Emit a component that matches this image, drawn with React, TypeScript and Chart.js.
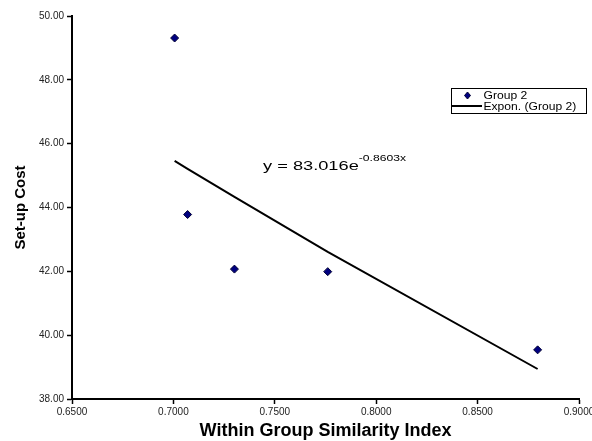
import React, { useEffect, useRef } from "react";
import { Chart, registerables } from "chart.js";

Chart.register(...registerables);

// Data
const similarityIndex = [0.7006, 0.707, 0.7301, 0.7761, 0.8796];
const setupCost = [49.31, 43.78, 42.07, 41.99, 39.54];
// Exponential trend line values read at the same x positions
const trendCost = [45.46, 45.21, 44.33, 42.61, 38.94];

const seriesLabel = "Group 2";
const trendLabel = "Expon. (Group 2)";
const equationMain = "y = 83.016e";
const equationExp = "-0.8603x";
const xTitle = "Within Group Similarity Index";
const yTitle = "Set-up Cost";

const FONT = "'Liberation Sans', Arial, Helvetica, sans-serif";
const SX = 1.35;

const overlayPlugin = {
  id: "overlay",
  afterDraw(chart: any) {
    const ctx = chart.ctx as CanvasRenderingContext2D;
    const area = chart.chartArea;
    ctx.save();
    ctx.fillStyle = "#000";
    // Axis titles
    ctx.font = `bold 18px ${FONT}`;
    ctx.textAlign = "center";
    ctx.textBaseline = "alphabetic";
    ctx.fillText(xTitle, (area.left + area.right) / 2, 436);
    ctx.save();
    ctx.translate(25, (area.top + area.bottom) / 2);
    ctx.rotate(-Math.PI / 2);
    ctx.font = `bold 15px ${FONT}`;
    ctx.textAlign = "center";
    ctx.textBaseline = "alphabetic";
    ctx.fillText(yTitle, 0, 0);
    ctx.restore();

    // Trend equation (horizontally stretched like the original)
    ctx.save();
    ctx.translate(263, 170);
    ctx.scale(SX, 1);
    ctx.textAlign = "left";
    ctx.font = `13.5px ${FONT}`;
    ctx.fillText(equationMain, 0, 0);
    const w = ctx.measureText(equationMain).width;
    ctx.font = `9px ${FONT}`;
    ctx.fillText(equationExp, w, -9);
    ctx.restore();

    // Legend box
    const bx = 451, by = 88, bw = 135, bh = 25;
    ctx.fillStyle = "#fff";
    ctx.fillRect(bx, by, bw, bh);
    ctx.strokeStyle = "#000";
    ctx.lineWidth = 1;
    ctx.strokeRect(bx + 0.5, by + 0.5, bw, bh);
    // marker
    const mx = 467.5, my1 = 95.5, my2 = 106;
    ctx.beginPath();
    ctx.moveTo(mx, my1 - 3.5);
    ctx.lineTo(mx + 3, my1);
    ctx.lineTo(mx, my1 + 3.5);
    ctx.lineTo(mx - 3, my1);
    ctx.closePath();
    ctx.fillStyle = "#000080";
    ctx.fill();
    ctx.strokeStyle = "#000033";
    ctx.stroke();
    // line
    ctx.beginPath();
    ctx.moveTo(452, my2);
    ctx.lineTo(482, my2);
    ctx.strokeStyle = "#000";
    ctx.lineWidth = 2;
    ctx.stroke();
    ctx.fillStyle = "#000";
    ctx.save();
    ctx.translate(483.5, 0);
    ctx.scale(1.1, 1);
    ctx.font = `11px ${FONT}`;
    ctx.textBaseline = "middle";
    ctx.textAlign = "left";
    ctx.fillText(chart.data.datasets[0].label, 0, my1 + 0.5);
    ctx.fillText(chart.data.datasets[1].label, 0, my2 + 0.5);
    ctx.restore();
    ctx.restore();
  },
};

export default function App() {
  const canvasRef = useRef<HTMLCanvasElement | null>(null);

  useEffect(() => {
    document.body.style.margin = "0";
    const canvas = canvasRef.current!;
    const chart = new Chart(canvas, {
      type: "scatter",
      data: {
        datasets: [
          {
            label: seriesLabel,
            data: similarityIndex.map((x, i) => ({ x, y: setupCost[i] })),
            pointStyle: "rectRot",
            pointRadius: 4,
            backgroundColor: "#000080",
            borderColor: "#000033",
            borderWidth: 1,
            showLine: false,
            order: 0,
          },
          {
            label: trendLabel,
            data: similarityIndex.map((x, i) => ({ x, y: trendCost[i] })),
            showLine: true,
            pointRadius: 0,
            borderColor: "#000",
            borderWidth: 2,
            fill: false,
            order: 1,
          },
        ],
      },
      options: {
        responsive: false,
        animation: false,
        devicePixelRatio: 1,
        layout: { padding: { left: 0, top: 16, right: 13, bottom: 0 } },
        plugins: {
          legend: { display: false },
          tooltip: { enabled: false },
        },
        scales: {
          x: {
            type: "linear",
            min: 0.65,
            max: 0.9,
            ticks: {
              stepSize: 0.05,
              callback: (v: any) => Number(v).toFixed(4),
              font: { family: FONT, size: 10 },
              color: "#222",
              padding: 2,
              maxRotation: 0,
              autoSkip: false,
            },
            grid: {
              drawOnChartArea: false,
              drawTicks: true,
              tickLength: 5,
              tickColor: "#000",
              tickWidth: 1.5,
            },
            border: { display: true, color: "#000", width: 2 },
            afterFit: (scale: any) => {
              scale.height = 42;
              scale.paddingLeft = 0;
              scale.paddingRight = 0;
            },
          },
          y: {
            type: "linear",
            min: 38,
            max: 50,
            ticks: {
              stepSize: 2,
              callback: (v: any) => Number(v).toFixed(2),
              font: { family: FONT, size: 10 },
              color: "#222",
              padding: 3,
            },
            grid: {
              drawOnChartArea: false,
              drawTicks: true,
              tickLength: 5,
              tickColor: "#000",
              tickWidth: 1.5,
            },
            border: { display: true, color: "#000", width: 2 },
            afterFit: (scale: any) => {
              scale.width = 72;
              scale.paddingTop = 0;
              scale.paddingBottom = 0;
            },
          },
        },
      },
      plugins: [overlayPlugin],
    } as any);
    return () => chart.destroy();
  }, []);

  return (
    <div style={{ width: 592, height: 441, background: "#fff" }}>
      <canvas ref={canvasRef} width={592} height={441} style={{ display: "block" }} />
    </div>
  );
}
